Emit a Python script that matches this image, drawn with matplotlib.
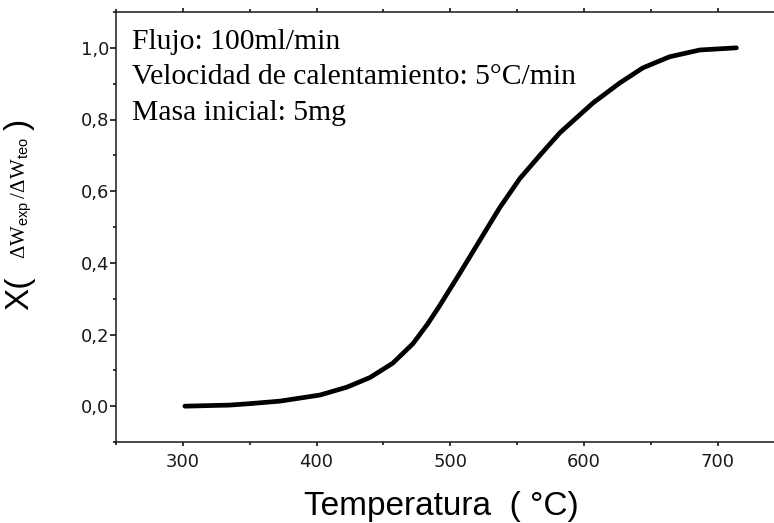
import matplotlib
matplotlib.use("Agg")
import matplotlib.pyplot as plt
from matplotlib.ticker import MultipleLocator, FuncFormatter

temperatura = [301.5, 335, 350, 372.5, 402.5, 422.7, 440, 457, 472, 483,
               492, 507, 522, 537, 552, 567, 582, 606.7, 626.8, 644, 664, 686.7, 714]
conversion = [0.0, 0.003, 0.007, 0.014, 0.031, 0.053, 0.08, 0.12, 0.174, 0.229,
              0.28, 0.370, 0.462, 0.554, 0.635, 0.70, 0.763, 0.846, 0.902,
              0.944, 0.975, 0.994, 1.0]
notas = ["Flujo: 100ml/min", "Velocidad de calentamiento: 5°C/min", "Masa inicial: 5mg"]

plt.rcParams['mathtext.fontset'] = 'custom'
plt.rcParams['mathtext.rm'] = 'Liberation Serif'
plt.rcParams['mathtext.sf'] = 'Liberation Sans'

W, H = 774, 523
fig = plt.figure(figsize=(W / 100, H / 100), dpi=100)
left, right, bottom, top = 116, 784.5, 442, 12
ax = fig.add_axes([left / W, (H - bottom) / H, (right - left) / W, (bottom - top) / H])

ax.plot(temperatura, conversion, color='black', lw=3.4, solid_capstyle='round',
        solid_joinstyle='round')

ax.set_xlim(250, 750)
ax.set_ylim(-0.1, 1.1)
ax.xaxis.set_major_locator(MultipleLocator(100))
ax.xaxis.set_minor_locator(MultipleLocator(50))
ax.yaxis.set_major_locator(MultipleLocator(0.2))
ax.yaxis.set_minor_locator(MultipleLocator(0.1))
ax.yaxis.set_major_formatter(FuncFormatter(lambda v, p: f"{v:.1f}".replace('.', ',').replace('-0,0', '0,0')))

ax.spines['right'].set_visible(False)
for s in ['left', 'bottom', 'top']:
    ax.spines[s].set_linewidth(1.1)
    ax.spines[s].set_color('#1a1a1a')

ax.tick_params(axis='x', which='major', direction='out', length=3, width=1.1,
               labelsize=13, pad=5, top=True, labeltop=False)
ax.tick_params(axis='x', which='minor', direction='out', length=2, width=1.1, top=True)
ax.tick_params(axis='y', which='major', direction='out', length=4.5, width=1.1,
               labelsize=13, pad=0.5)
ax.tick_params(axis='y', which='minor', direction='out', length=2.3, width=1.1)
for lab in ax.get_xticklabels() + ax.get_yticklabels():
    lab.set_fontfamily('DejaVu Sans')
    lab.set_color('#1a1a1a')

# annotations
for i, t in enumerate(notas):
    fig.text(132 / W, (H - 49 - i * 35.5) / H, t, family='Liberation Serif',
             fontsize=21.3, ha='left', va='baseline')

# x label
fig.text(441 / W, (H - 515) / H, "Temperatura  ( °C)", family='Liberation Sans',
         fontsize=24, ha='center', va='baseline')

# y label pieces
fig.text(35 / W, (H - 310) / H, "X(", family='Liberation Sans', fontsize=24,
         rotation=90, ha='right', va='bottom')
fig.text(34 / W, (H - 259) / H, r'$\Delta\mathrm{W}_{\mathsf{exp}}\,/\Delta\mathrm{W}_{\mathsf{teo}}$',
         fontsize=15, rotation=90, ha='right', va='bottom')
fig.text(35 / W, (H - 130) / H, ")", family='Liberation Sans', fontsize=24,
         rotation=90, ha='right', va='bottom')

fig.savefig("out.png", dpi=100)
